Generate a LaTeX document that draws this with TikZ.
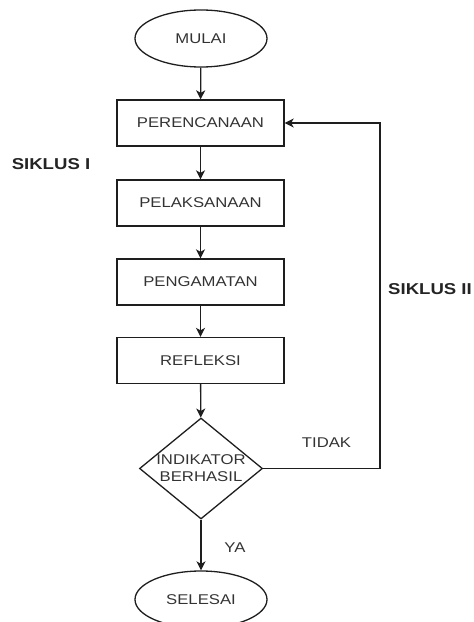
\documentclass[tikz,border=0pt]{standalone}
\usepackage{fontspec}
\setmainfont{Liberation Sans}[FakeStretch=1.18]
\usetikzlibrary{shapes.geometric,arrows.meta}
\definecolor{txt}{HTML}{333333}
\definecolor{ln}{HTML}{1E1E1E}
\begin{document}
\begin{tikzpicture}[x=1bp,y=-1bp,
  base/.style={draw=ln, line width=1.3bp, inner sep=0pt, text=txt, font=\fontsize{14.2}{17}\selectfont},
  box/.style={base, rectangle, minimum width=167bp, minimum height=46bp},
  term/.style={base, ellipse, minimum width=132bp, minimum height=57bp},
  decision/.style={base, diamond, minimum width=123bp, minimum height=101bp, inner xsep=-40bp, inner ysep=-12bp, align=center},
  arr/.style={draw=ln, line width=1.3bp, -{Stealth[length=9bp,width=9bp,inset=2.5bp]}},
  lbl/.style={text=txt!70!black, font=\bfseries\fontsize{15.8}{18}\selectfont, inner sep=0pt},
  note/.style={text=txt, font=\fontsize{14.2}{17}\selectfont, inner sep=0pt}
]
\useasboundingbox (0,0) rectangle (474,622);
\node[term] (mulai) at (201,38.5) {MULAI};
\node[box] (p1) at (200.5,123) {PERENCANAAN};
\node[box] (p2) at (200.5,203) {PELAKSANAAN};
\node[box] (p3) at (200.5,282) {PENGAMATAN};
\node[box] (p4) at (200.5,360.5) {REFLEKSI};
\node[decision] (dec) at (201,468.5) {INDIKATOR\\BERHASIL};
\node[term] (selesai) at (201,599.5) {SELESAI};
\coordinate (corner) at (380,468.5);

\draw[arr] (mulai) -- (p1);
\draw[arr] (p1) -- (p2);
\draw[arr] (p2) -- (p3);
\draw[arr] (p3) -- (p4);
\draw[arr] (p4) -- (dec);
\draw[arr] (dec) -- (selesai);
\draw[arr] (dec.east) -- (corner) |- (p1.east);

\node[lbl] (s1) at (51,164) {SIKLUS I};
\node[lbl] (s2) at (430,289.5) {SIKLUS II};
\node[note] (tidak) at (326.5,443) {TIDAK};
\node[note] (ya) at (235,548) {YA};
\end{tikzpicture}
\end{document}
